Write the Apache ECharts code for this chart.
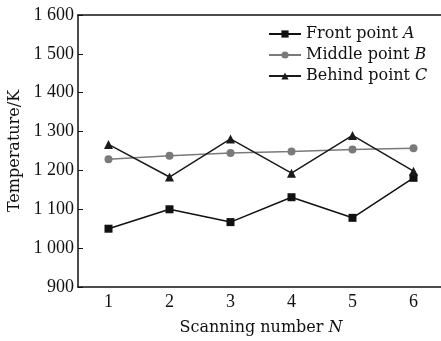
<!DOCTYPE html>
<html><head><meta charset="utf-8">
<script src="https://cdn.jsdelivr.net/npm/echarts@6/dist/echarts.min.js"></script>
<style>html,body{margin:0;padding:0;background:#fff}#c{width:441px;height:341px}</style>
</head><body><div id="c"></div>
<script>
const categories = ['1','2','3','4','5','6'];
const seriesNames = ['Front point A','Middle point B','Behind point C'];
const frontA = [1050, 1100, 1067, 1131, 1078, 1181];
const middleB = [1229, 1238, 1245, 1249, 1254, 1257];
const behindC = [1267, 1183, 1281, 1193, 1290, 1198];
const yTicks = [900, 1000, 1100, 1200, 1300, 1400, 1500, 1600];
const yTickLabels = ['900','1 000','1 100','1 200','1 300','1 400','1 500','1 600'];

const NF = 'Liberation Serif, Times New Roman, serif';
const TF = 'DejaVu Serif, serif';
const chart = echarts.init(document.getElementById('c'), null, {renderer:'canvas'});
const mk = (name, data, sym, size, color) => ({
  name, type:'line', data, symbol:sym, symbolSize:size,
  lineStyle:{color, width:1.5}, itemStyle:{color}, animation:false
});
const ital = {fontFamily:TF, fontSize:16, fontStyle:'italic', color:'#111'};
chart.setOption({
  backgroundColor:'#fff',
  grid:{left:78, right:-3, top:15, bottom:54, containLabel:false, outerBoundsMode:'none'},
  legend:{
    orient:'vertical', left:263, top:21, itemGap:5, itemWidth:32, itemHeight:9,
    textStyle:{fontFamily:TF, fontSize:16, color:'#111', rich:{i:ital}},
    formatter: n => { const p = n.split(' '); const last = p.pop(); return p.join(' ') + ' {i|' + last + '}'; }
  },
  xAxis:[{
    type:'category', data:categories, boundaryGap:true,
    axisLine:{lineStyle:{color:'#111', width:1.5}},
    axisTick:{inside:true, alignWithLabel:true, length:5, lineStyle:{color:'#111'}},
    axisLabel:{fontFamily:NF, fontSize:18, color:'#111', margin:6},
    name:'Scanning number {i|N}', nameLocation:'middle', nameGap:33,
    nameTextStyle:{fontFamily:TF, fontSize:16, color:'#111', rich:{i:ital}}
  },{
    type:'category', data:categories, position:'top',
    axisLine:{lineStyle:{color:'#111', width:1.5}}, axisTick:{show:false}, axisLabel:{show:false}
  }],
  yAxis:{
    type:'value', min:900, max:1600, interval:100,
    axisLine:{show:true, lineStyle:{color:'#111', width:1.5}},
    axisTick:{show:true, inside:true, length:5, lineStyle:{color:'#111'}},
    splitLine:{show:false},
    axisLabel:{fontFamily:NF, fontSize:18, color:'#111', margin:4,
      formatter: v => yTickLabels[yTicks.indexOf(v)]},
    name:'Temperature/K', nameLocation:'middle', nameGap:49,
    nameTextStyle:{fontFamily:TF, fontSize:16, color:'#111'}
  },
  series:[
    mk(seriesNames[0], frontA, 'rect', 8, '#111'),
    mk(seriesNames[1], middleB, 'circle', 8, '#7a7a7a'),
    mk(seriesNames[2], behindC, 'triangle', 9, '#1a1a1a')
  ]
});
</script></body></html>
